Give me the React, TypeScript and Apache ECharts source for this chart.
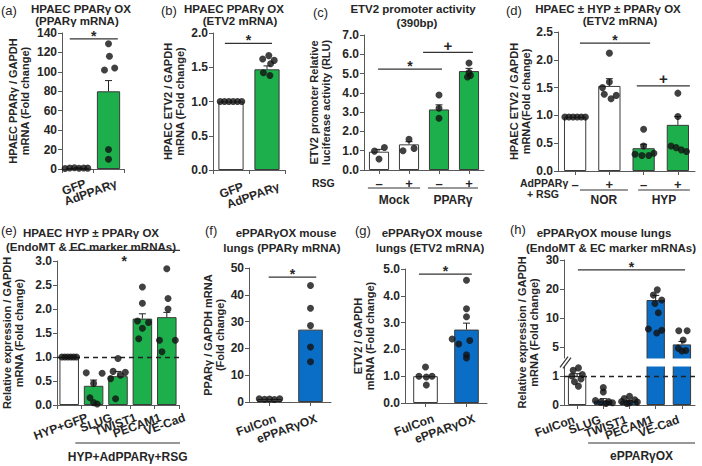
import React, { useEffect, useRef } from 'react';
import * as echarts from 'echarts';

const FONT = '"Liberation Sans", Arial, Helvetica, sans-serif';
const INK = '#262626';
const AXIS = '#595959';
const GREEN = '#1DAF4B';
const BLUE = '#0A6EC6';
const WHITE = '#FFFFFF';

// (a) HPAEC PPARγ OX (PPARγ mRNA)
const aCats = ['GFP', 'AdPPARγ'];
const aMeans = [1, 80];
const aErrs = [0.3, 11];
const aDots = [[0.6, 1.0, 1.2, 0.8, 1.1, 0.9], [129, 116, 102, 104, 20, 10]];
const aJit = [[-0.4, -0.25, -0.1, 0.05, 0.2, 0.33], [0, 0.03, -0.13, 0.2, 0, 0]];
const aSig: any[] = [[-0.25, 1.3, 134, '*']];

// (b) HPAEC PPARγ OX (ETV2 mRNA)
const bCats = ['GFP', 'AdPPARγ'];
const bMeans = [1.0, 1.47];
const bErrs = [0, 0.05];
const bDots = [[1, 1, 1, 1, 1, 1], [1.67, 1.62, 1.6, 1.55, 1.42, 1.38]];
const bJit = [[-0.3, -0.18, -0.06, 0.06, 0.18, 0.3], [0.05, -0.12, 0.2, 0.1, -0.1, 0.08]];
const bSig: any[] = [[-0.17, 1.14, 1.85, '*']];

// (c) ETV2 promoter activity (390bp)
const cCats = ['Mock –', 'Mock +', 'PPARγ –', 'PPARγ +'];
const cMeans = [0.95, 1.33, 3.14, 5.13];
const cErrs = [0.12, 0.14, 0.24, 0.14];
const cDots = [[0.98, 1.17, 0.57], [1.59, 1.0, 1.12], [3.89, 3.2, 2.68], [5.55, 5.05, 4.9, 4.82]];
const cJit = [[-0.15, 0.18, 0], [0, -0.2, 0.17], [0, 0, 0], [0, 0, 0.05, -0.05]];
const cSig: any[] = [[-0.03, 2.1, 5.23, '*'], [1.47, 3.13, 6.1, '+']];
const cGroups: any[] = [[-0.37, 1.37, 'Mock'], [1.63, 3.3, 'PPARγ']];

// (d) HPAEC ± HYP ± PPARγ OX (ETV2 mRNA)
const dCats = ['NOR –', 'NOR +', 'HYP –', 'HYP +'];
const dMeans = [0.97, 1.53, 0.41, 0.83];
const dErrs = [0, 0.13, 0.07, 0.15];
const dDots = [
  [0.97, 0.97, 0.97, 0.97, 0.97, 0.97],
  [2.12, 1.6, 1.5, 1.38, 1.36, 1.3],
  [0.75, 0.45, 0.3, 0.28, 0.28, 0.32],
  [1.4, 0.98, 0.45, 0.42, 0.38, 0.35],
];
const dJit = [
  [-0.3, -0.18, -0.06, 0.06, 0.18, 0.3],
  [0, 0, -0.2, -0.15, 0.2, 0.05],
  [0, 0, -0.25, -0.05, 0.15, 0.3],
  [0, 0, -0.2, -0.05, 0.1, 0.25],
];
const dSig: any[] = [[0.14, 2.19, 2.3, '*'], [1.8, 3.35, 1.53, '+']];
const dGroups: any[] = [[0.14, 1.54, 'NOR'], [1.84, 3.35, 'HYP']];

// (e) HPAEC HYP ± PPARγ OX (EndoMT & EC marker mRNAs)
const eCats = ['HYP+GFP', 'SLUG', 'TWIST1', 'PECAM1', 'VE-Cad'];
const eMeans = [1.0, 0.4, 0.6, 1.8, 1.83];
const eErrs = [0, 0.12, 0.1, 0.1, 0.1];
const eDots = [
  [1, 1, 1, 1, 1, 1],
  [0.67, 0.66, 0.45, 0.15, 0.05, 0.02],
  [0.97, 0.7, 0.68, 0.62, 0.55, 0.13],
  [2.46, 2.12, 1.75, 1.72, 1.6, 1.38],
  [2.84, 2.22, 2.0, 1.35, 1.35, 1.11],
];
const eJit = [
  [-0.3, -0.18, -0.06, 0.06, 0.18, 0.3],
  [-0.3, 0.35, 0, -0.15, 0, 0.15],
  [0, -0.2, 0.3, 0.1, -0.3, -0.1],
  [0, 0, -0.2, 0.25, 0, -0.15],
  [0, 0.05, 0.05, -0.3, 0.35, -0.2],
];
const eSig: any[] = [[-0.02, 4.54, 3.22, '*', true]];
const eGroups: any[] = [[0.25, 4.54, 'HYP+AdPPARγ+RSG']];

// (f) ePPARγOX mouse lungs (PPARγ mRNA)
const fCats = ['FulCon', 'ePPARγOX'];
const fMeans = [1.1, 27];
const fErrs = [0, 0];
const fDots = [[1.2, 1.0, 1.1, 0.9, 1.2], [43.5, 35, 28.5, 20.5, 15]];
const fJit = [[-0.25, -0.12, 0, 0.12, 0.25], [0, 0, 0, 0, 0]];
const fSig: any[] = [[-0.02, 1.14, 46.6, '*']];

// (g) ePPARγOX mouse lungs (ETV2 mRNA)
const gCats = ['FulCon', 'ePPARγOX'];
const gMeans = [1.0, 2.74];
const gErrs = [0, 0.24];
const gDots = [[1.34, 1.0, 0.97, 1.0, 0.67], [4.58, 3.52, 3.22, 2.39, 2.33, 2.2, 1.8, 1.68]];
const gJit = [[0, -0.16, 0.02, 0.16, 0.02], [0, 0, 0, -0.35, 0.08, -0.19, 0, 0]];
const gSig: any[] = [[-0.16, 1.13, 4.81, '*']];

// (h) ePPARγOX mouse lungs (EndoMT & EC marker mRNAs) — broken axis
const hCats = ['FulCon', 'SLUG', 'TWIST1', 'PECAM1', 'VE-Cad'];
const hMeans = [1.0, 0.15, 0.13, 16.2, 5.45];
const hErrs = [0.08, 0.07, 0.03, 1.6, 0.5];
const hDots = [
  [1.28, 1.2, 1.05, 1.0, 0.9, 0.8, 0.65],
  [0.6, 0.45, 0.15, 0.12, 0.1, 0.08, 0.05],
  [0.3, 0.22, 0.18, 0.12, 0.1, 0.08, 0.05],
  [19.7, 17.9, 16.2, 15, 11.8, 8.1, 7.9, 7.4],
  [7.8, 7.8, 6.2, 4.8, 4.4, 4.3],
];
const hJit = [
  [0.05, -0.15, 0.2, -0.2, 0.15, -0.1, 0.05],
  [0, 0, -0.3, 0.2, -0.1, 0.35, 0.1],
  [0, -0.2, 0.2, -0.3, 0.3, 0, -0.1],
  [0.06, -0.09, 0.23, -0.03, 0.1, -0.28, 0.23, 0.04],
  [-0.12, 0.2, 0.05, -0.14, 0.15, 0],
];
const hSig: any[] = [[0.03, 4.12, 26.6, '*']];
const hGroups: any[] = [[0.42, 4.5, 'ePPARγOX']];
const hTickLabels = ['0', '1', '5', '10', '20', '30'];
const hKnotsV = [0, 1.4, 3.1, 10, 20, 30];
const hKnotsT = [0, 1.4, 1.62, 3, 4, 5];
const hBreakT = [1.33, 1.6];

const hTf = (v: number) => {
  for (let i = 1; i < hKnotsV.length; i++) {
    if (v <= hKnotsV[i] || i === hKnotsV.length - 1) {
      return hKnotsT[i - 1] + ((v - hKnotsV[i - 1]) / (hKnotsV[i] - hKnotsV[i - 1])) * (hKnotsT[i] - hKnotsT[i - 1]);
    }
  }
  return v;
};

const txt = (size: number, weight: any = 'bold') => ({ fontFamily: FONT, fontSize: size, fontWeight: weight, fill: INK });

function buildOption() {
  const panels: any[] = [
    { cats: aCats, means: aMeans, errs: aErrs, dots: aDots, jit: aJit, sig: aSig, colors: [WHITE, GREEN],
      grid: { left: 62, top: 33, width: 62, height: 136 }, y: [0, 140, 20], dec: 0,
      yName: 'HPAEC PPARγ / GAPDH\nmRNA (Fold change)', nameGap: 31, center: false, barWidth: '75%',
      lab: [8, 14] },
    { cats: bCats, means: bMeans, errs: bErrs, dots: bDots, jit: bJit, sig: bSig, colors: [WHITE, GREEN],
      grid: { left: 213, top: 33, width: 72, height: 137 }, y: [0, 2, 0.5], dec: 1,
      yName: 'HPAEC ETV2 / GAPDH\nmRNA (Fold change)', nameGap: 27, center: false, barWidth: '70%',
      lab: [12, 16] },
    { cats: cCats, means: cMeans, errs: cErrs, dots: cDots, jit: cJit, sig: cSig, colors: [WHITE, WHITE, GREEN, GREEN],
      grid: { left: 364, top: 35, width: 120, height: 135 }, y: [0, 7, 1], dec: 1,
      yName: 'ETV2 promoter Relative\nluciferase activity (RLU)', nameGap: 32, center: true, barWidth: '67%',
      groups: cGroups, gLine: 18, gText: 30, signs: true },
    { cats: dCats, means: dMeans, errs: dErrs, dots: dDots, jit: dJit, sig: dSig, colors: [WHITE, WHITE, GREEN, GREEN],
      grid: { left: 558, top: 32, width: 137, height: 139 }, y: [0, 2.5, 0.5], dec: 1,
      yName: 'HPAEC ETV2 / GAPDH\nmRNA(Fold change)', nameGap: 18, center: true, barWidth: '65%',
      groups: dGroups, gLine: 19, gText: 29, signs: true },
    { cats: eCats, means: eMeans, errs: eErrs, dots: eDots, jit: eJit, sig: eSig, colors: [WHITE, GREEN, GREEN, GREEN, GREEN],
      grid: { left: 53, top: 261, width: 126, height: 144 }, y: [0, 3, 0.5], dec: 1,
      yName: 'Relative expression / GAPDH\nmRNA (Fold change)', nameGap: 32, center: false, barWidth: '80%',
      groups: eGroups, gLine: 38, gText: 52, refLine: 1, lab: [18, 12] },
    { cats: fCats, means: fMeans, errs: fErrs, dots: fDots, jit: fJit, sig: fSig, colors: [WHITE, BLUE],
      grid: { left: 249, top: 268, width: 82, height: 134 }, y: [0, 50, 10], dec: 0,
      yName: 'PPARγ / GAPDH mRNA\n(Fold change)', nameGap: 23, center: true, barWidth: '60%',
      lab: [6, 16] },
    { cats: gCats, means: gMeans, errs: gErrs, dots: gDots, jit: gJit, sig: gSig, colors: [WHITE, BLUE],
      grid: { left: 405, top: 269, width: 82, height: 134 }, y: [0, 5, 1], dec: 1,
      yName: 'ETV2 / GAPDH\nmRNA (Fold change)', nameGap: 29, center: true, barWidth: '60%',
      lab: [8, 15] },
    { cats: hCats, means: hMeans, errs: hErrs, dots: hDots, jit: hJit, sig: hSig, colors: [WHITE, BLUE, BLUE, BLUE, BLUE],
      grid: { left: 564, top: 260, width: 131, height: 145 }, y: [0, 5, 1], dec: -1,
      yName: 'Relative expression / GAPDH\nmRNA (Fold change)', nameGap: 24, center: true, barWidth: '70%',
      groups: hGroups, gLine: 38, gText: 51, refLine: 1, tf: hTf, brk: hBreakT, lab: [-3, 14] },
  ];

  const grids: any[] = [];
  const xAxes: any[] = [];
  const yAxes: any[] = [];
  const series: any[] = [];

  panels.forEach((p, i) => {
    const tf = p.tf || ((v: number) => v);
    grids.push({ ...p.grid, containLabel: false });
    xAxes.push({
      type: 'category', gridIndex: i, data: p.cats,
      axisLine: { show: true, onZero: false, lineStyle: { color: AXIS, width: 1 } },
      axisTick: { show: true, alignWithLabel: p.center, length: 4, lineStyle: { color: AXIS } },
      axisLabel: {
        show: !!p.signs, interval: 0, margin: 7,
        fontFamily: FONT, fontSize: 13, fontWeight: 'bold', color: INK,
        formatter: (v: string) => v.split(' ').pop(),
      },
    });
    xAxes.push({ type: 'value', gridIndex: i, min: -0.5, max: p.cats.length - 0.5, show: false });
    yAxes.push({
      type: 'value', gridIndex: i, min: p.y[0], max: p.y[1], interval: p.y[2],
      axisLine: { show: true, onZero: false, lineStyle: { color: AXIS, width: 1 } },
      axisTick: { show: true, length: 4, lineStyle: { color: AXIS } },
      splitLine: { show: false },
      axisLabel: {
        margin: 5, fontFamily: FONT, fontSize: 12, fontWeight: 'bold', color: INK,
        formatter: p.dec < 0 ? (v: number) => hTickLabels[Math.round(v)] : (v: number) => v.toFixed(p.dec),
      },
      name: p.yName, nameLocation: 'middle', nameGap: p.nameGap, nameRotate: 90,
      nameTextStyle: { fontFamily: FONT, fontSize: 11, fontWeight: 'bold', color: INK, lineHeight: 12 },
    });

    const cx = 2 * i;
    const vx = 2 * i + 1;

    series.push({
      type: 'bar', xAxisIndex: cx, yAxisIndex: i, barWidth: p.barWidth, z: 2,
      itemStyle: { borderColor: '#3a3a3a', borderWidth: 1 },
      data: p.means.map((m: number, k: number) => ({ value: tf(m), itemStyle: { color: p.colors[k] } })),
      markLine: p.refLine != null ? {
        silent: true, symbol: 'none', label: { show: false }, z: 3,
        lineStyle: { type: [5, 4], color: '#222', width: 1.3 },
        data: [{ yAxis: tf(p.refLine) }],
      } : undefined,
    });

    series.push({
      type: 'custom', xAxisIndex: cx, yAxisIndex: i, z: 3,
      data: p.means.map((m: number, k: number) => [k, tf(m), tf(m + p.errs[k]), p.errs[k]]),
      renderItem: (params: any, api: any) => {
        if (!(api.value(3) > 0)) return null;
        const x = api.value(0);
        const p0 = api.coord([x, api.value(1)]);
        const p1 = api.coord([x, api.value(2)]);
        const st = { stroke: '#222', lineWidth: 1 };
        return {
          type: 'group', children: [
            { type: 'line', shape: { x1: p0[0], y1: p0[1], x2: p1[0], y2: p1[1] }, style: st },
            { type: 'line', shape: { x1: p1[0] - 3.5, y1: p1[1], x2: p1[0] + 3.5, y2: p1[1] }, style: st },
          ],
        };
      },
    });

    const pts: any[] = [];
    p.dots.forEach((arr: number[], k: number) => arr.forEach((v, j) => pts.push([k + p.jit[k][j], tf(v)])));
    series.push({
      type: 'scatter', xAxisIndex: vx, yAxisIndex: i, z: 4, symbolSize: 7,
      itemStyle: { color: '#111' }, data: pts,
    });

    const sigs = p.sig;
    series.push({
      type: 'custom', xAxisIndex: vx, yAxisIndex: i, z: 5,
      data: sigs.map((s: any[]) => [s[0], s[1], tf(s[2])]),
      renderItem: (params: any, api: any) => {
        const s = sigs[params.dataIndex];
        const a = api.coord([api.value(0), api.value(2)]);
        const b = api.coord([api.value(1), api.value(2)]);
        const isStar = s[3] === '*';
        const dy = s[4] ? (isStar ? 11 : 8) : (isStar ? -3 : -7);
        return {
          type: 'group', children: [
            { type: 'line', shape: { x1: a[0], y1: a[1], x2: b[0], y2: b[1] }, style: { stroke: '#333', lineWidth: 1.3 } },
            { type: 'text', style: { ...txt(isStar ? 14 : 15), text: s[3], x: (a[0] + b[0]) / 2, y: a[1] + dy, align: 'center', verticalAlign: 'middle' } },
          ],
        };
      },
    });

    if (p.lab) {
      const lab = p.lab;
      const cats = p.cats;
      series.push({
        type: 'custom', xAxisIndex: cx, yAxisIndex: i, z: 5,
        data: cats.map((c: string, k: number) => [k, p.y[0]]),
        renderItem: (params: any, api: any) => {
          const cs = params.coordSys;
          const base = cs.y + cs.height;
          const pt = api.coord([api.value(0), api.value(1)]);
          return {
            type: 'text', x: pt[0] + lab[0], y: base + lab[1], rotation: (20 * Math.PI) / 180,
            style: { ...txt(12), text: cats[params.dataIndex], x: 0, y: 0, align: 'right', verticalAlign: 'middle' },
          };
        },
      });
    }

    if (p.groups) {
      const groups = p.groups;
      series.push({
        type: 'custom', xAxisIndex: vx, yAxisIndex: i, z: 5,
        data: groups.map((g: any[]) => [g[0], g[1]]),
        renderItem: (params: any, api: any) => {
          const g = groups[params.dataIndex];
          const cs = params.coordSys;
          const base = cs.y + cs.height;
          const a = api.coord([api.value(0), p.y[0]]);
          const b = api.coord([api.value(1), p.y[0]]);
          return {
            type: 'group', children: [
              { type: 'line', shape: { x1: a[0], y1: base + p.gLine, x2: b[0], y2: base + p.gLine }, style: { stroke: '#333', lineWidth: 1.2 } },
              { type: 'text', style: { ...txt(12), text: g[2], x: (a[0] + b[0]) / 2, y: base + p.gText, align: 'center', verticalAlign: 'middle' } },
            ],
          };
        },
      });
    }

    if (p.brk) {
      const brk = p.brk;
      series.push({
        type: 'custom', xAxisIndex: vx, yAxisIndex: i, z: 3,
        data: [[-0.5, brk[0], brk[1]]],
        renderItem: (params: any, api: any) => {
          const cs = params.coordSys;
          const lo = api.coord([api.value(0), api.value(1)]);
          const hi = api.coord([api.value(0), api.value(2)]);
          const x = lo[0];
          const st = { stroke: '#333', lineWidth: 1.2 };
          return {
            type: 'group', children: [
              { type: 'rect', shape: { x: x - 4, y: hi[1], width: cs.width + 6, height: lo[1] - hi[1] }, style: { fill: '#fff' } },
              { type: 'line', shape: { x1: x - 4, y1: lo[1] + 1, x2: x + 4, y2: hi[1] - 2 }, style: st },
              { type: 'line', shape: { x1: x - 1, y1: lo[1] + 2, x2: x + 7, y2: hi[1] - 1 }, style: st },
            ],
          };
        },
      });
    }
  });

  const letters: any[] = [
    ['(a)', 1, 10], ['(b)', 161, 10], ['(c)', 313, 12], ['(d)', 506, 10],
    ['(e)', 1, 230], ['(f)', 205, 230], ['(g)', 355, 230], ['(h)', 510, 229],
  ];
  const titles: any[] = [
    ['HPAEC PPARγ OX', 81, 9], ['(PPARγ mRNA)', 77, 21],
    ['HPAEC PPARγ OX', 234, 9], ['(ETV2 mRNA)', 240, 21],
    ['ETV2 promoter activity', 413, 9], ['(390bp)', 417, 23],
    ['HPAEC ± HYP ± PPARγ OX', 608, 9], ['(ETV2 mRNA)', 620, 21],
    ['HPAEC HYP ± PPARγ OX', 91, 233], ['(EndoMT & EC marker mRNAs)', 91, 247],
    ['ePPARγOX mouse', 286, 233], ['lungs (PPARγ mRNA)', 282, 248],
    ['ePPARγOX mouse', 432, 233], ['lungs (ETV2 mRNA)', 430, 248],
    ['ePPARγOX mouse lungs', 604, 233], ['(EndoMT & EC marker mRNAs)', 611, 248],
  ];
  const rowHeads: any[] = [
    ['RSG', 312, 183], ['AdPPARγ', 520, 183], ['+ RSG', 527, 194],
  ];
  const graphic: any[] = [
    ...letters.map((l) => ({ type: 'text', x: l[1], y: l[2], style: { ...txt(13, 'normal'), text: l[0], align: 'left', verticalAlign: 'middle' } })),
    ...titles.map((t) => ({ type: 'text', x: t[1], y: t[2], style: { ...txt(11.5), text: t[0], align: 'center', verticalAlign: 'middle' } })),
    ...rowHeads.map((t) => ({ type: 'text', x: t[1], y: t[2], style: { ...txt(10.5), text: t[0], align: 'left', verticalAlign: 'middle' } })),
  ];

  return {
    animation: false,
    backgroundColor: '#ffffff',
    textStyle: { fontFamily: FONT },
    grid: grids,
    xAxis: xAxes,
    yAxis: yAxes,
    series,
    graphic,
  };
}

export default function App() {
  const ref = useRef<HTMLDivElement>(null);
  useEffect(() => {
    if (!ref.current) return;
    const chart = echarts.init(ref.current, undefined, { renderer: 'svg' });
    chart.setOption(buildOption() as any);
    return () => chart.dispose();
  }, []);
  return (
    <div
      ref={ref}
      style={{ position: 'fixed', left: 0, top: 0, width: 702, height: 466, background: '#fff' }}
    />
  );
}
